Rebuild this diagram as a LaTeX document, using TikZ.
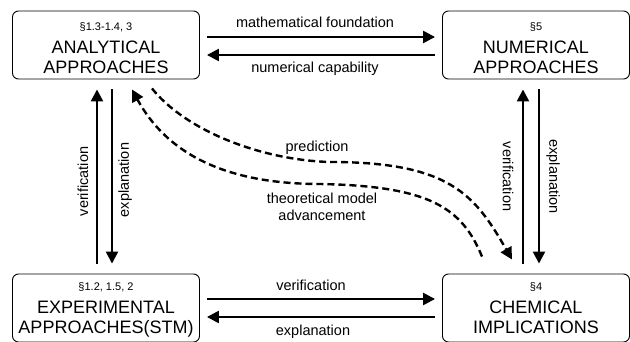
\documentclass[tikz,border=0pt]{standalone}
\usepackage{fontspec}
\setmainfont{Liberation Sans}
\usetikzlibrary{arrows.meta}

% section number, then two title lines; #1 moves the block down
\newcommand{\boxtext}[4]{\smash{\raisebox{#1}{\begin{tabular}{@{}c@{}}{\fontsize{11}{13}\selectfont #2}\\[3pt]#3\\#4\end{tabular}}}}

\tikzset{
	box/.style={rectangle, draw, rounded corners=6pt, line width=0.9pt, minimum width=187pt, minimum height=68pt, inner sep=0pt, font=\fontsize{18}{20}\selectfont},
	link/.style={->, >={Triangle[length=12pt,width=12pt]}, line width=2.4pt, shorten <=7pt, shorten >=7pt},
	vlink/.style={link, shorten <=10pt, shorten >=10pt},
	dlink/.style={->, >={Triangle[length=12pt,width=12pt]}, line width=2.4pt, dash pattern=on 7pt off 4pt},
	lbl/.style={font=\fontsize{14.5}{17}\selectfont, align=center}
}

\begin{document}
\begin{tikzpicture}[x=1pt, y=-1pt]
		\useasboundingbox (0, 0) rectangle (630, 342);

		% the four approaches
		\node[box] (ana) at (106, 45) {\boxtext{-7.5pt}{§1.3-1.4, 3}{ANALYTICAL}{APPROACHES}};
		\node[box] (num) at (536, 45) {\boxtext{-7.5pt}{§5}{NUMERICAL}{APPROACHES}};
		\node[box] (exp) at (106, 308) {\boxtext{-4.5pt}{§1.2, 1.5, 2}{EXPERIMENTAL}{APPROACHES(STM)}};
		\node[box] (chem) at (536, 308) {\boxtext{-4.5pt}{§4}{CHEMICAL}{IMPLICATIONS}};

		% top
		\draw[link] ([yshift=8pt]ana.east) -- ([yshift=8pt]num.west) node[lbl, midway, xshift=-6pt, yshift=15pt] {mathematical foundation};
		\draw[link] ([yshift=-10pt]num.west) -- ([yshift=-10pt]ana.east) node[lbl, midway, xshift=-6pt, yshift=-13.5pt] {numerical capability};

		% bottom
		\draw[link] ([yshift=9pt]exp.east) -- ([yshift=9pt]chem.west) node[lbl, midway, xshift=-10pt, yshift=14pt] {verification};
		\draw[link] ([yshift=-9pt]chem.west) -- ([yshift=-9pt]exp.east) node[lbl, midway, xshift=-8pt, yshift=-14.5pt] {explanation};

		% left
		\draw[vlink] ([xshift=-9pt]exp.north) -- ([xshift=-9pt]ana.south) node[lbl, midway, xshift=-14pt, yshift=-5pt, rotate=90] {verification};
		\draw[vlink] ([xshift=6pt]ana.south) -- ([xshift=6pt]exp.north) node[lbl, midway, xshift=13pt, yshift=-3.5pt, rotate=90] {explanation};

		% right
		\draw[vlink] ([xshift=-13pt]chem.north) -- ([xshift=-13pt]num.south) node[lbl, midway, xshift=-15pt, rotate=-90] {verification};
		\draw[vlink] ([xshift=3pt]num.south) -- ([xshift=3pt]chem.north) node[lbl, midway, xshift=14pt, rotate=-90] {explanation};

		% dashed ones
		\draw[dlink] ([xshift=46pt, yshift=-9pt]ana.south) .. controls (185, 130) and (260, 160) .. (330, 162) .. controls (450, 162) and (475, 195) .. ([xshift=-24pt, yshift=14pt]chem.north);
		\draw[dlink] ([xshift=-54pt, yshift=17pt]chem.north) .. controls (462, 208) and (430, 186) .. (320, 184) .. controls (220, 184) and (165, 150) .. ([xshift=26pt, yshift=-10pt]ana.south);
		\node[lbl] (pred) at (317, 148) {prediction};
		\node[lbl] (adv) at (322, 206.5) {theoretical model\\advancement};
\end{tikzpicture}
\end{document}
